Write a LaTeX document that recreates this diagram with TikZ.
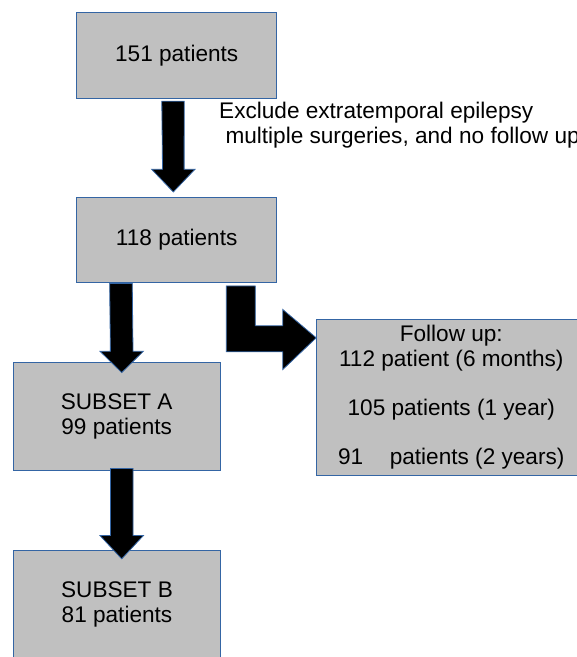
\documentclass[tikz,border=0pt]{standalone}
\usepackage{fontspec}
\setmainfont{Liberation Sans}
\usetikzlibrary{calc}
\definecolor{boxfill}{HTML}{C0C0C0}
\definecolor{boxline}{HTML}{3465A4}
\begin{document}
\begin{tikzpicture}[x=1pt,y=-1pt,
  box/.style={draw=boxline, line width=0.9pt, fill=boxfill, inner sep=0pt,
    align=center, font=\fontsize{22.6}{24.5}\selectfont},
  blockarrow/.style={draw=boxline, line width=0.8pt, fill=black, line join=miter},
  note/.style={inner sep=0pt, align=left, font=\fontsize{22.6}{24.8}\selectfont}]
\useasboundingbox (0,0) rectangle (577,657);
% boxes
\node[box, minimum width=200pt, minimum height=85.6pt] (b1) at (176.7,55.5) {151 patients};
\node[box, minimum width=200pt, minimum height=85pt] (b2) at (176.7,240) {118 patients};
\node[box, minimum width=206.7pt, minimum height=108.4pt] (bA) at (116.7,416.5) {SUBSET A\\99 patients};
\node[box, minimum width=207pt, minimum height=109pt] (bB) at (117,604.5) {SUBSET B\\81 patients};
\node[box, minimum width=269.3pt, minimum height=156.7pt] (bF) at (451.3,397.3)
  {Follow up:\\112 patient (6 months)\\[24.5pt]105 patients (1 year)\\[24.5pt]91\hspace{26.5pt}patients (2 years)};
% label
\node[note, anchor=base west] (ex) at (219,143.3)
  {Exclude extratemporal epilepsy\\\hspace*{6.3pt}multiple surgeries, and no follow up};
% arrow b1 -> b2
\coordinate (a1s) at ($(b1.south)+(-3.7,2.4)$);
\coordinate (a1t) at ($(b2.north)+(-3.4,-5.1)$);
\draw[blockarrow] ($(a1s)+(-11.2,0)$) -- ($(a1s)+(11.2,0)$) -- ($(a1t)+(10.8,-22.7)$)
  -- ($(a1t)+(21.7,-22.7)$) -- (a1t) -- ($(a1t)+(-21.7,-22.7)$) -- ($(a1t)+(-10.8,-22.7)$) -- cycle;
% arrow b2 -> bA
\coordinate (a2s) at ($(b2.south west)+(44.7,0.5)$);
\coordinate (a2t) at ($(bA.north)+(5,10.7)$);
\draw[blockarrow] ($(a2s)+(-11.3,0)$) -- ($(a2s)+(11.3,0)$) -- ($(a2t)+(11.3,-21.3)$)
  -- ($(a2t)+(21.7,-21.3)$) -- (a2t) -- ($(a2t)+(-21.7,-21.3)$) -- ($(a2t)+(-11.3,-21.3)$) -- cycle;
% arrow bA -> bB
\coordinate (a3s) at ($(bA.south)+(5,-2.7)$);
\coordinate (a3t) at ($(bB.north)+(4.7,9.3)$);
\draw[blockarrow] ($(a3s)+(-11.3,0)$) -- ($(a3s)+(11.3,0)$) -- ($(a3t)+(11.3,-23.3)$)
  -- ($(a3t)+(21.7,-23.3)$) -- (a3t) -- ($(a3t)+(-21.7,-23.3)$) -- ($(a3t)+(-11.3,-23.3)$) -- cycle;
% bent arrow b2 -> bF
\coordinate (a4s) at ($(b2.south west)+(150,3)$);
\coordinate (a4t) at ($(bF.north west)+(0,19.3)$);
\draw[blockarrow] (a4s) -- ++(29,0) |- ($(a4t)+(-33.4,-12)$) -- ++(0,-16.3)
  -- (a4t) -- ($(a4t)+(-33.4,31.7)$) -- ++(0,-17.7) -| cycle;
\end{tikzpicture}
\end{document}
